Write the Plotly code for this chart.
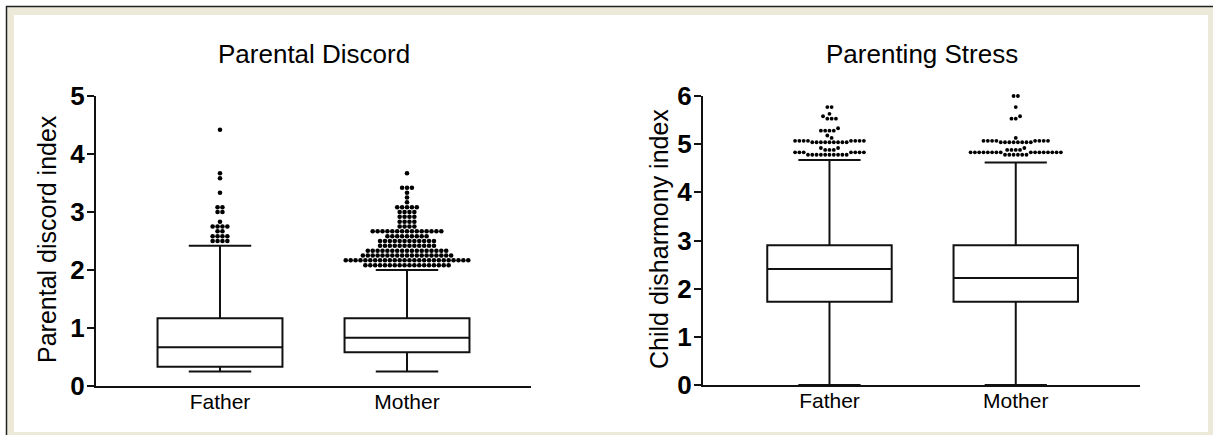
import numpy as np
import plotly.graph_objects as go

W, H = 1213, 435
FONT = "Liberation Sans, Arial, sans-serif"

groups = ["Father", "Mother"]
group_pos = [0, 1]

# ---- Parental Discord (box statistics) ----
pd_q1 = [0.333, 0.583]
pd_median = [0.667, 0.833]
pd_q3 = [1.167, 1.167]
pd_lower = [0.25, 0.25]
pd_upper = [2.417, 2.0]

# outliers: levels and counts
pd_father_out_levels = [2.5, 2.583, 2.667, 2.75, 2.833, 3.0, 3.083, 3.333, 3.583, 3.667, 4.417]
pd_father_out_counts = [4, 4, 2, 4, 1, 2, 2, 1, 1, 1, 1]
pd_mother_out_levels = [2.083, 2.167, 2.25, 2.333, 2.417, 2.5, 2.583, 2.667, 2.75, 2.833,
                        2.917, 3.0, 3.083, 3.167, 3.25, 3.333, 3.417, 3.667]
pd_mother_out_counts = [18, 26, 19, 17, 12, 12, 9, 15, 4, 4, 4, 4, 5, 1, 1, 1, 3, 1]

# ---- Parenting Stress (box statistics) ----
ps_q1 = [1.73, 1.73]
ps_median = [2.41, 2.22]
ps_q3 = [2.90, 2.90]
ps_lower = [0.0, 0.0]
ps_upper = [4.67, 4.62]

ps_father_out_levels = [4.78, 4.83, 4.88, 4.92, 5.04, 5.07, 5.13, 5.18, 5.28, 5.33, 5.53, 5.58, 5.63, 5.77]
ps_father_out_counts = [10, 7, 3, 2, 9, 8, 1, 1, 4, 1, 3, 1, 1, 2]
ps_mother_out_levels = [4.78, 4.83, 4.88, 4.92, 5.04, 5.07, 5.13, 5.53, 5.58, 5.77, 6.0]
ps_mother_out_counts = [6, 16, 4, 1, 8, 8, 1, 2, 1, 1, 2]

pd_yticks = [0, 1, 2, 3, 4, 5]
ps_yticks = [0, 1, 2, 3, 4, 5, 6]

# ---- pixel layout ----
L_X0, L_X1, L_Y0, L_Y1 = 96, 531, 386, 96     # left plot area (px)
R_X0, R_X1, R_Y0, R_Y1 = 703, 1140, 385, 96    # right plot area (px)
L_XR = [-0.663, 1.663]
R_XR = [-0.679, 1.667]
L_YR = [0, 5]
R_YR = [0, 6]


def px(x):
    return x / W


def py(y):
    return 1 - y / H


def swarm(levels, counts, center, ypx_unit, xpx_unit, spacing_px, bin_px):
    vals = np.sort(np.repeat(np.array(levels, float), counts))
    rows, cur, start = [], [], None
    for v in vals:
        if start is None or (v - start) * ypx_unit >= bin_px:
            if cur:
                rows.append(cur)
            cur, start = [v], v
        else:
            cur.append(v)
    if cur:
        rows.append(cur)
    xs, ys = [], []
    for row in rows:
        n = len(row)
        shift = 0.5 if n % 2 == 0 else 0.0
        for i, v in enumerate(row):
            if i == 0:
                s = 0
            else:
                m = (i + 1) // 2
                s = -m if i % 2 == 1 else m
            xs.append(center + (s + shift) * spacing_px / xpx_unit)
            ys.append(v)
    return xs, ys


fig = go.Figure()

line_col = "#111111"


def add_box(name, xpos, q1, med, q3, lo, hi, xa, ya):
    fig.add_trace(go.Box(
        x=[xpos], q1=[q1], median=[med], q3=[q3], lowerfence=[lo], upperfence=[hi],
        width=0.668, whiskerwidth=0.5, boxpoints=False,
        line=dict(color=line_col, width=2), fillcolor="white",
        xaxis=xa, yaxis=ya, showlegend=False, name=name, hoverinfo="skip"))


for i in range(2):
    add_box(groups[i], group_pos[i], pd_q1[i], pd_median[i], pd_q3[i], pd_lower[i], pd_upper[i], "x", "y")
    add_box(groups[i], group_pos[i], ps_q1[i], ps_median[i], ps_q3[i], ps_lower[i], ps_upper[i], "x2", "y2")

l_xunit = (L_X1 - L_X0) / (L_XR[1] - L_XR[0])
l_yunit = (L_Y0 - L_Y1) / (L_YR[1] - L_YR[0])
r_xunit = (R_X1 - R_X0) / (R_XR[1] - R_XR[0])
r_yunit = (R_Y0 - R_Y1) / (R_YR[1] - R_YR[0])

for lv, ct, c in [(pd_father_out_levels, pd_father_out_counts, 0),
                  (pd_mother_out_levels, pd_mother_out_counts, 1)]:
    xs, ys = swarm(lv, ct, c, l_yunit, l_xunit, 4.9, 4.0)
    fig.add_trace(go.Scatter(x=xs, y=ys, mode="markers", xaxis="x", yaxis="y", cliponaxis=False,
                             marker=dict(color="black", size=4.6, line=dict(width=0)),
                             showlegend=False, hoverinfo="skip"))

for lv, ct, c in [(ps_father_out_levels, ps_father_out_counts, 0),
                  (ps_mother_out_levels, ps_mother_out_counts, 1)]:
    xs, ys = swarm(lv, ct, c, r_yunit, r_xunit, 4.3, 4.1)
    fig.add_trace(go.Scatter(x=xs, y=ys, mode="markers", xaxis="x2", yaxis="y2", cliponaxis=False,
                             marker=dict(color="black", size=3.8, line=dict(width=0)),
                             showlegend=False, hoverinfo="skip"))

xaxis_common = dict(showline=True, linecolor=line_col, linewidth=2, ticks="",
                    showgrid=False, zeroline=False, tickvals=group_pos, ticktext=groups,
                    automargin=False, ticklabelstandoff=-4,
                    tickfont=dict(family=FONT, size=21, color="black"), fixedrange=True)
yaxis_common = dict(showline=True, linecolor=line_col, linewidth=2, ticks="outside",
                    ticklen=7, tickwidth=2, tickcolor=line_col, showgrid=False, zeroline=False,
                    automargin=False, ticklabelstandoff=-3,
                    tickfont=dict(family=FONT, size=26, color="black", weight="bold"),
                    fixedrange=True)

fig.update_layout(
    width=W, height=H, autosize=False,
    margin=dict(l=0, r=0, t=0, b=0, pad=0),
    paper_bgcolor="white", plot_bgcolor="rgba(0,0,0,0)",
    showlegend=False,
    xaxis=dict(domain=[px(L_X0), px(L_X1)], range=L_XR, anchor="y", **xaxis_common),
    yaxis=dict(domain=[py(L_Y0), py(L_Y1)], range=L_YR, anchor="x", tickvals=pd_yticks, **yaxis_common),
    xaxis2=dict(domain=[px(R_X0), px(R_X1)], range=R_XR, anchor="y2", **xaxis_common),
    yaxis2=dict(domain=[py(R_Y0), py(R_Y1)], range=R_YR, anchor="x2", tickvals=ps_yticks, **yaxis_common),
    boxmode="overlay",
)

# frame
fig.add_shape(type="rect", xref="paper", yref="paper", x0=px(6), x1=1.0, y0=0.0, y1=py(6),
              fillcolor="#ECE9D8", line=dict(width=0), layer="below")
fig.add_shape(type="rect", xref="paper", yref="paper", x0=px(14), x1=px(1208), y0=py(432), y1=py(15),
              fillcolor="white", line=dict(width=0), layer="below")
fig.add_shape(type="line", xref="paper", yref="paper", x0=px(6.5), x1=px(6.5), y0=0.0, y1=py(6),
              line=dict(color="#222222", width=1.5), layer="below")
fig.add_shape(type="line", xref="paper", yref="paper", x0=px(6), x1=1.0, y0=py(6.5), y1=py(6.5),
              line=dict(color="#222222", width=1.5), layer="below")

# titles
for text, cx in [("Parental Discord", (L_X0 + L_X1) / 2), ("Parenting Stress", (R_X0 + R_X1) / 2)]:
    fig.add_annotation(text=text, xref="paper", yref="paper", x=px(cx), y=py(54),
                       xanchor="center", yanchor="middle", showarrow=False,
                       font=dict(family=FONT, size=26, color="black"))

# y axis titles
for text, cx in [("Parental discord index", 47), ("Child disharmony index", 659)]:
    fig.add_annotation(text=text, xref="paper", yref="paper", x=px(cx), y=py(239),
                       xanchor="center", yanchor="middle", showarrow=False, textangle=-90,
                       font=dict(family=FONT, size=25, color="black"))

fig.write_html("out.html")
